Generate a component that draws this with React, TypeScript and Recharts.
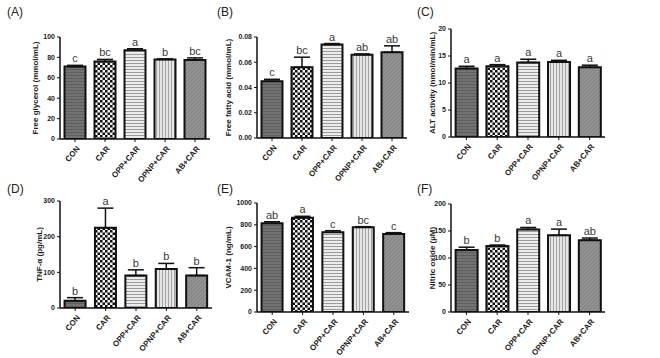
import { BarChart, Bar, XAxis, YAxis, ErrorBar, LabelList, Cell } from 'recharts'

const categories = ['CON', 'CAR', 'OPP+CAR', 'OPNP+CAR', 'AB+CAR']
const patternIds = ['pat-con', 'pat-car', 'pat-opp', 'pat-opnp', 'pat-ab']

// (A) free glycerol
const glycerolMean = [71, 76, 87, 78, 77.5]
const glycerolSem = [1.2, 2, 1.5, 0.5, 2]
const glycerolLetters = ['c', 'bc', 'a', 'b', 'bc']
const glycerolTicks = [0, 20, 40, 60, 80, 100]

// (B) free fatty acid
const ffaMean = [0.045, 0.056, 0.074, 0.066, 0.068]
const ffaSem = [0.0015, 0.008, 0.0008, 0.0006, 0.005]
const ffaLetters = ['c', 'bc', 'a', 'ab', 'ab']
const ffaTicks = [0, 0.02, 0.04, 0.06, 0.08]

// (C) ALT activity
const altMean = [12.7, 13.1, 13.8, 13.9, 12.9]
const altSem = [0.4, 0.3, 0.6, 0.3, 0.4]
const altLetters = ['a', 'a', 'a', 'a', 'a']
const altTicks = [0, 5, 10, 15, 20]

// (D) TNF-a
const tnfMean = [20, 225, 91, 109, 91]
const tnfSem = [9, 55, 16, 16, 22]
const tnfLetters = ['b', 'a', 'b', 'b', 'b']
const tnfTicks = [0, 100, 200, 300]

// (E) VCAM-1
const vcamMean = [814, 865, 731, 777, 716]
const vcamSem = [14, 13, 15, 6, 12]
const vcamLetters = ['ab', 'a', 'c', 'bc', 'c']
const vcamTicks = [0, 200, 400, 600, 800, 1000]

// (F) nitric oxide
const noMean = [115, 122, 153, 142, 133]
const noSem = [5, 2, 3.5, 11.5, 4]
const noLetters = ['b', 'b', 'a', 'a', 'ab']
const noTicks = [0, 50, 100, 150, 200]

const FONT = 'Arial, "Liberation Sans", sans-serif'

const buildRows = (mean: number[], sem: number[], letters: string[]) =>
  categories.map((name, i) => ({ name, value: mean[i], err: [0, sem[i]], letter: letters[i] }))

const XTick = (props: any) => {
  const { x, y, payload } = props
  return (
    <g transform={`translate(${x + 3},${y + 3})`}>
      <text
        x={0}
        y={0}
        dy="0.35em"
        textAnchor="end"
        transform="rotate(-50)"
        fontSize={8}
        fontWeight="bold"
        fontFamily={FONT}
        fill="#222"
      >
        {payload.value}
      </text>
    </g>
  )
}

interface PanelProps {
  tag: string
  left: number
  top: number
  width: number
  height: number
  margin: { top: number; right: number }
  yWidth: number
  xHeight: number
  mean: number[]
  sem: number[]
  letters: string[]
  ticks: number[]
  fmt?: (v: number) => string
  title: string
  titleX: number
}

function Panel(p: PanelProps) {
  const data = buildRows(p.mean, p.sem, p.letters)
  const max = p.ticks[p.ticks.length - 1]

  const renderLetter = (props: any) => {
    const { x, y, width, height, value, index } = props
    const errPx = (height * p.sem[index]) / p.mean[index]
    return (
      <text
        x={x + width / 2}
        y={y - errPx - 3}
        textAnchor="middle"
        fontSize={11}
        fontFamily={FONT}
        fill="#3a3a3a"
      >
        {value}
      </text>
    )
  }

  const renderTitle = (props: any) => {
    const { viewBox } = props
    const cx = viewBox.x + p.titleX
    const cy = viewBox.y + viewBox.height / 2
    return (
      <text
        x={cx}
        y={cy}
        transform={`rotate(-90 ${cx} ${cy})`}
        textAnchor="middle"
        dominantBaseline="central"
        fontSize={8}
        fontWeight="bold"
        fontFamily={FONT}
        fill="#222"
      >
        {p.title}
      </text>
    )
  }

  return (
    <div style={{ position: 'absolute', left: p.left, top: p.top }}>
      <div
        style={{
          position: 'absolute',
          left: p.tag === 'A' || p.tag === 'D' ? 7 : 2,
          top: p.tag === 'A' || p.tag === 'B' || p.tag === 'C' ? 5 : 2,
          fontFamily: FONT,
          fontSize: 12,
          color: '#222',
        }}
      >
        ({p.tag})
      </div>
      <BarChart
        width={p.width}
        height={p.height}
        data={data}
        margin={{ top: p.margin.top, right: p.margin.right, bottom: 0, left: 0 }}
        barCategoryGap="15%"
        style={{ overflow: 'visible' }}
      >
        <XAxis
          dataKey="name"
          height={p.xHeight}
          interval={0}
          tick={<XTick />}
          tickSize={3}
          axisLine={{ stroke: '#111', strokeWidth: 1.5 }}
          tickLine={{ stroke: '#111' }}
        />
        <YAxis
          width={p.yWidth}
          domain={[0, max]}
          ticks={p.ticks}
          tickFormatter={p.fmt}
          tickSize={3}
          interval={0}
          allowDataOverflow
          axisLine={{ stroke: '#111', strokeWidth: 1.5 }}
          tickLine={{ stroke: '#111' }}
          tick={{ fontSize: 7, fontWeight: 'bold', fill: '#222', fontFamily: FONT }}
          label={{ content: renderTitle }}
        />
        <Bar dataKey="value" stroke="#111" strokeWidth={2} isAnimationActive={false}>
          {data.map((_, i) => (
            <Cell key={i} fill={`url(#${patternIds[i]})`} />
          ))}
          <ErrorBar
            dataKey="err"
            width={8}
            stroke="#111"
            strokeWidth={1.5}
            direction="y"
            isAnimationActive={false}
          />
          <LabelList dataKey="letter" content={renderLetter} />
        </Bar>
      </BarChart>
    </div>
  )
}

function Patterns() {
  return (
    <svg width={0} height={0} style={{ position: 'absolute' }}>
      <defs>
        <pattern id="pat-con" width={3} height={3} patternUnits="userSpaceOnUse">
          <rect width={3} height={3} fill="#727272" />
          <rect width={3} height={1} fill="#5e5e5e" />
        </pattern>
        <pattern id="pat-car" width={5} height={5} patternUnits="userSpaceOnUse">
          <rect width={5} height={5} fill="#f4f4f4" />
          <rect width={2.5} height={2.5} fill="#111" />
          <rect x={2.5} y={2.5} width={2.5} height={2.5} fill="#111" />
        </pattern>
        <pattern id="pat-opp" width={4} height={3} patternUnits="userSpaceOnUse">
          <rect width={4} height={3} fill="#ececec" />
          <rect width={4} height={1} fill="#9c9c9c" />
        </pattern>
        <pattern id="pat-opnp" width={3} height={4} patternUnits="userSpaceOnUse">
          <rect width={3} height={4} fill="#e6e6e6" />
          <rect width={1} height={4} fill="#a4a4a4" />
        </pattern>
        <pattern id="pat-ab" width={4} height={4} patternUnits="userSpaceOnUse">
          <rect width={4} height={4} fill="#929292" />
          <path d="M0,4 L4,0" stroke="#808080" strokeWidth={1} />
        </pattern>
      </defs>
    </svg>
  )
}

export default function App() {
  return (
    <div
      style={{
        position: 'absolute',
        left: 0,
        top: 0,
        width: 660,
        height: 358,
        background: '#fff',
        overflow: 'hidden',
      }}
    >
      <Patterns />
      <Panel
        tag="A" left={0} top={0} width={215} height={190}
        margin={{ top: 37, right: 5 }} yWidth={60} xHeight={51}
        mean={glycerolMean} sem={glycerolSem} letters={glycerolLetters} ticks={glycerolTicks}
        title="Free glycerol (mmol/mL)" titleX={35}
      />
      <Panel
        tag="B" left={215} top={0} width={200} height={190}
        margin={{ top: 37, right: 8 }} yWidth={42} xHeight={52}
        mean={ffaMean} sem={ffaSem} letters={ffaLetters} ticks={ffaTicks}
        fmt={(v) => v.toFixed(2)}
        title="Free fatty acid (mmol/mL)" titleX={13}
      />
      <Panel
        tag="C" left={415} top={0} width={245} height={190}
        margin={{ top: 29, right: 55 }} yWidth={36} xHeight={53}
        mean={altMean} sem={altSem} letters={altLetters} ticks={altTicks}
        title="ALT activity (nmol/min/mL)" titleX={17}
      />
      <Panel
        tag="D" left={0} top={180} width={215} height={178}
        margin={{ top: 21, right: 3 }} yWidth={60} xHeight={50}
        mean={tnfMean} sem={tnfSem} letters={tnfLetters} ticks={tnfTicks}
        title="TNF-α (pg/mL)" titleX={39}
      />
      <Panel
        tag="E" left={215} top={180} width={200} height={178}
        margin={{ top: 23, right: 6 }} yWidth={42} xHeight={46}
        mean={vcamMean} sem={vcamSem} letters={vcamLetters} ticks={vcamTicks}
        title="VCAM-1 (ng/mL)" titleX={13}
      />
      <Panel
        tag="F" left={415} top={180} width={245} height={178}
        margin={{ top: 24, right: 55 }} yWidth={36} xHeight={46}
        mean={noMean} sem={noSem} letters={noLetters} ticks={noTicks}
        title="Nitric oxide (µM)" titleX={17}
      />
    </div>
  )
}
